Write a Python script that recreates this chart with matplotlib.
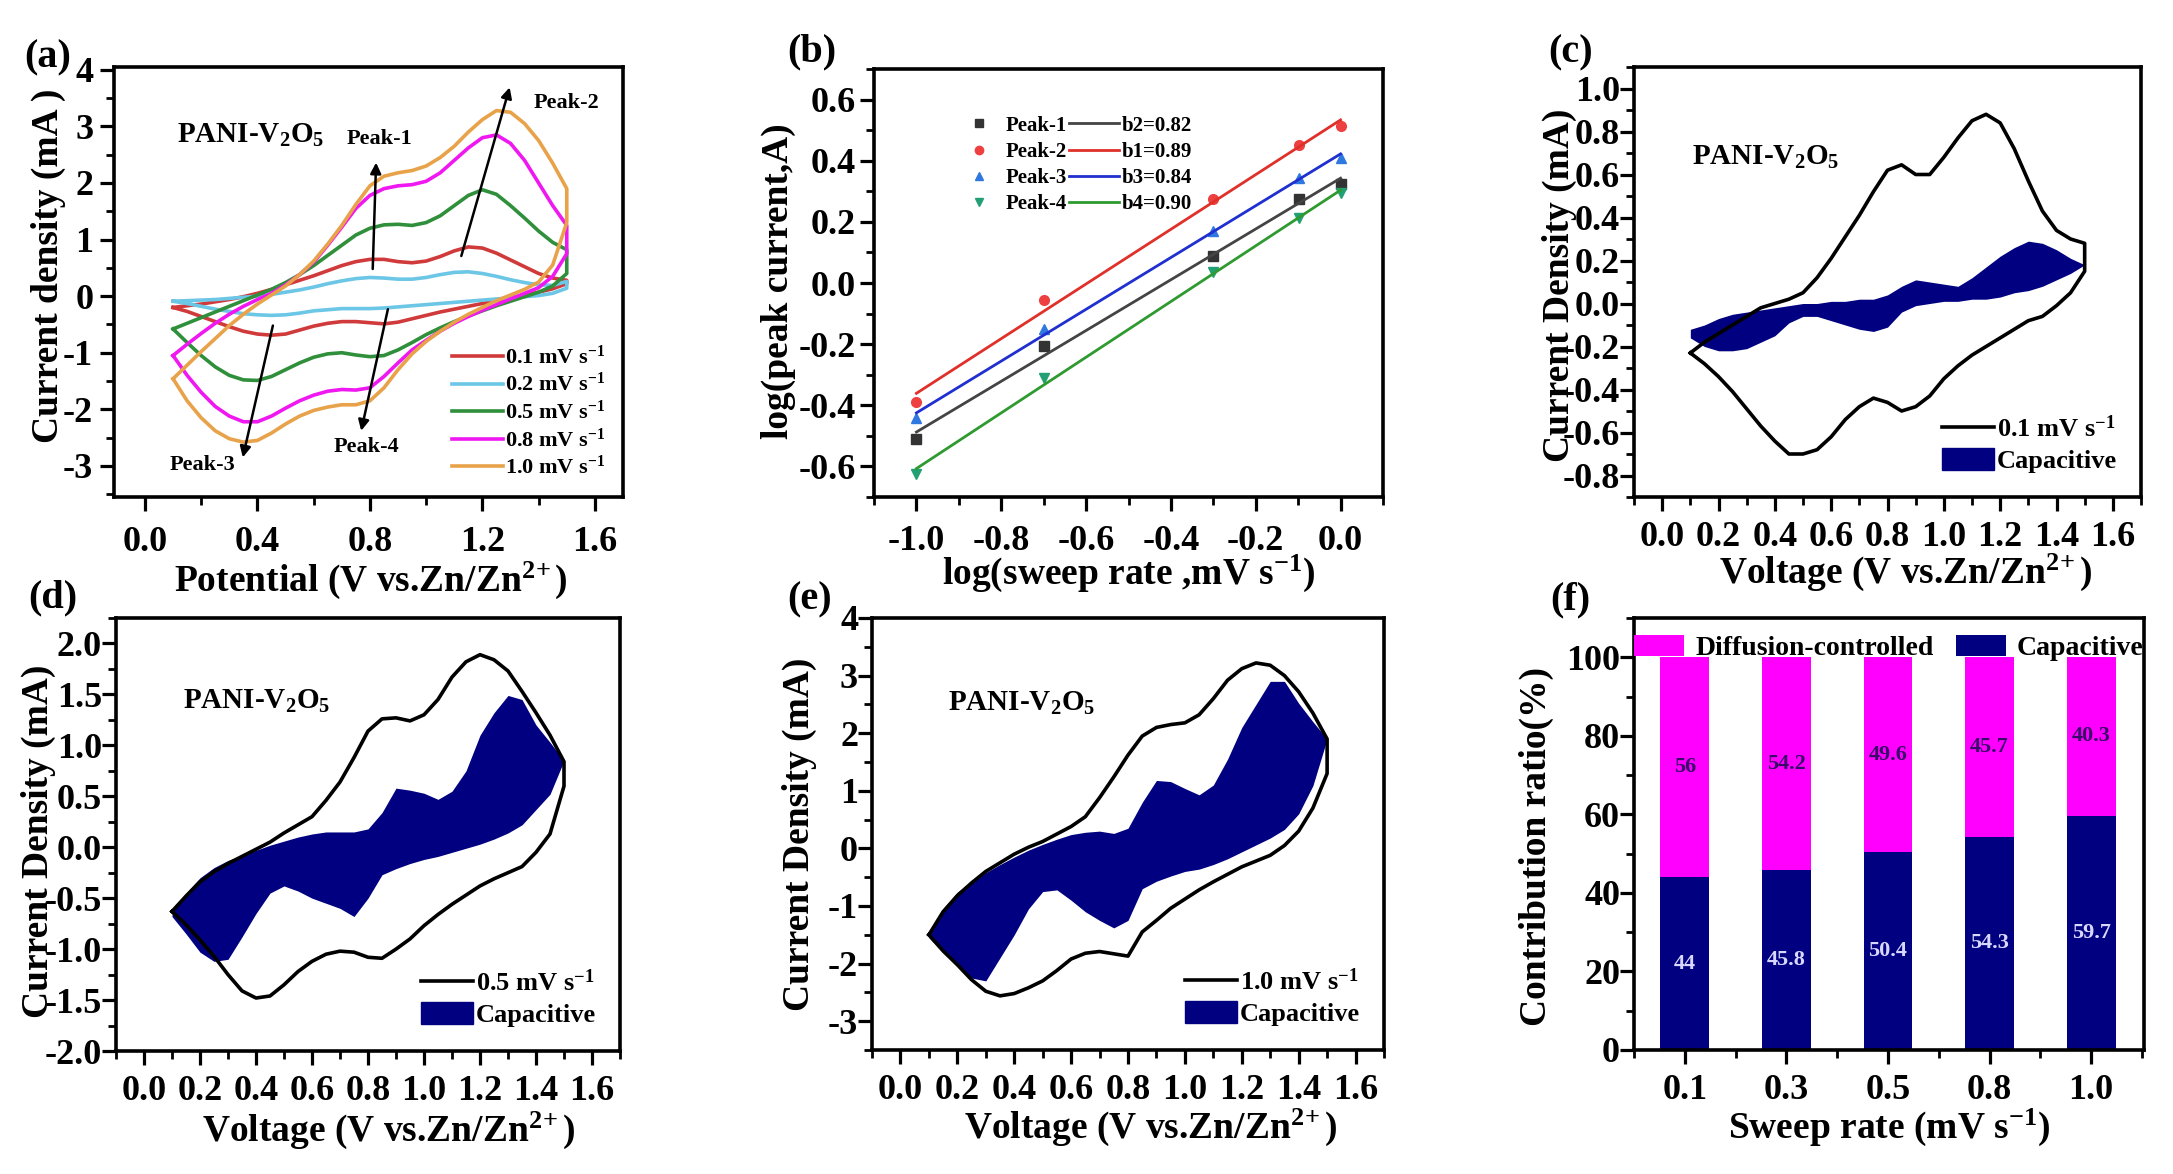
import numpy as np
import matplotlib
matplotlib.use("Agg")
import matplotlib.pyplot as plt
from matplotlib.ticker import MultipleLocator
from matplotlib.lines import Line2D
from matplotlib.patches import Patch

plt.rcParams['font.family'] = 'Liberation Serif'
plt.rcParams['font.weight'] = 'bold'
plt.rcParams['axes.labelweight'] = 'bold'
plt.rcParams['mathtext.fontset'] = 'custom'
plt.rcParams['mathtext.rm'] = 'Liberation Serif:bold'
plt.rcParams['mathtext.it'] = 'Liberation Serif:bold:italic'
plt.rcParams['mathtext.bf'] = 'Liberation Serif:bold'
plt.rcParams['mathtext.default'] = 'rm'
plt.rcParams['axes.unicode_minus'] = False

# ---------------- data ----------------
# voltage grid (V vs Zn/Zn2+) shared by all CV curves
volt = [0.10, 0.15, 0.20, 0.25, 0.30, 0.35, 0.40, 0.45, 0.50, 0.55, 0.60, 0.65, 0.70, 0.75, 0.80,
        0.85, 0.90, 0.95, 1.00, 1.05, 1.10, 1.15, 1.20, 1.25, 1.30, 1.35, 1.40, 1.45, 1.50]

# (a) CV at different sweep rates: anodic (upper) and cathodic (lower) branches
cv01_up = [-0.20, -0.17, -0.14, -0.10, -0.06, -0.01, 0.05, 0.12, 0.20, 0.28, 0.36, 0.45, 0.54, 0.61, 0.65,
           0.65, 0.61, 0.59, 0.62, 0.70, 0.80, 0.87, 0.85, 0.76, 0.64, 0.52, 0.40, 0.32, 0.28]
cv01_dn = [-0.20, -0.27, -0.36, -0.45, -0.54, -0.62, -0.67, -0.69, -0.67, -0.60, -0.53, -0.48, -0.45, -0.45, -0.47,
           -0.49, -0.46, -0.40, -0.34, -0.28, -0.23, -0.18, -0.13, -0.08, -0.03, 0.02, 0.07, 0.13, 0.22]
cv02_up = [-0.09, -0.08, -0.07, -0.06, -0.04, -0.02, 0.00, 0.03, 0.07, 0.11, 0.16, 0.22, 0.27, 0.31, 0.33,
           0.32, 0.30, 0.30, 0.33, 0.38, 0.42, 0.43, 0.40, 0.35, 0.29, 0.24, 0.20, 0.19, 0.26]
cv02_dn = [-0.09, -0.13, -0.18, -0.23, -0.27, -0.31, -0.33, -0.34, -0.33, -0.30, -0.26, -0.24, -0.22, -0.22, -0.22,
           -0.21, -0.19, -0.17, -0.15, -0.13, -0.11, -0.09, -0.07, -0.05, -0.03, -0.01, 0.01, 0.05, 0.14]
cv05_up = [-0.58, -0.48, -0.38, -0.28, -0.18, -0.08, 0.02, 0.12, 0.24, 0.38, 0.54, 0.72, 0.90, 1.08, 1.20,
           1.26, 1.27, 1.25, 1.30, 1.42, 1.60, 1.78, 1.88, 1.80, 1.60, 1.38, 1.15, 0.95, 0.82]
cv05_dn = [-0.58, -0.82, -1.05, -1.25, -1.40, -1.48, -1.49, -1.42, -1.30, -1.18, -1.08, -1.02, -1.00, -1.04, -1.07,
           -1.05, -0.95, -0.82, -0.68, -0.56, -0.45, -0.35, -0.26, -0.17, -0.09, -0.01, 0.07, 0.18, 0.40]
cv08_up = [-1.05, -0.85, -0.66, -0.48, -0.32, -0.18, -0.06, 0.05, 0.20, 0.38, 0.60, 0.90, 1.22, 1.55, 1.78,
           1.90, 1.95, 1.97, 2.03, 2.18, 2.40, 2.62, 2.80, 2.85, 2.70, 2.40, 2.00, 1.60, 1.25]
cv08_dn = [-1.05, -1.40, -1.70, -1.95, -2.12, -2.22, -2.22, -2.12, -1.98, -1.85, -1.75, -1.68, -1.65, -1.66, -1.62,
           -1.42, -1.18, -0.95, -0.78, -0.62, -0.48, -0.36, -0.25, -0.15, -0.05, 0.05, 0.15, 0.35, 0.75]
cv10_up = [-1.46, -1.22, -0.98, -0.75, -0.52, -0.32, -0.14, 0.02, 0.18, 0.38, 0.62, 0.92, 1.25, 1.62, 1.95,
           2.12, 2.18, 2.22, 2.30, 2.45, 2.65, 2.90, 3.12, 3.28, 3.25, 3.05, 2.75, 2.35, 1.90]
cv10_dn = [-1.46, -1.85, -2.15, -2.38, -2.52, -2.58, -2.55, -2.42, -2.26, -2.12, -2.02, -1.96, -1.92, -1.92, -1.85,
           -1.62, -1.30, -1.02, -0.80, -0.62, -0.46, -0.32, -0.20, -0.08, 0.02, 0.12, 0.25, 0.55, 1.30]
rate_labels = ['0.1 mV s$^{-1}$', '0.2 mV s$^{-1}$', '0.5 mV s$^{-1}$', '0.8 mV s$^{-1}$', '1.0 mV s$^{-1}$']

# (b) log(peak current) vs log(sweep rate)
log_rate = [-1.0, -0.699, -0.301, -0.097, 0.0]
peak1 = [-0.51, -0.205, 0.088, 0.275, 0.325]
peak2 = [-0.39, -0.055, 0.275, 0.450, 0.512]
peak3 = [-0.44, -0.150, 0.170, 0.345, 0.410]
peak4 = [-0.625, -0.310, 0.037, 0.213, 0.294]
peak_names = ['Peak-1', 'Peak-2', 'Peak-3', 'Peak-4']
b_labels = ['b2=0.82', 'b1=0.89', 'b3=0.84', 'b4=0.90']

# (c) 0.1 mV/s with capacitive contribution
c_up = [-0.23, -0.18, -0.14, -0.10, -0.06, -0.02, 0.00, 0.02, 0.05, 0.12, 0.21, 0.31, 0.41, 0.52, 0.62,
        0.645, 0.60, 0.60, 0.68, 0.77, 0.85, 0.88, 0.84, 0.72, 0.57, 0.43, 0.34, 0.30, 0.28]
c_dn = [-0.23, -0.28, -0.34, -0.41, -0.49, -0.57, -0.64, -0.70, -0.70, -0.68, -0.62, -0.54, -0.48, -0.44, -0.46,
        -0.50, -0.48, -0.43, -0.35, -0.29, -0.24, -0.20, -0.16, -0.12, -0.08, -0.06, -0.01, 0.05, 0.15]
c_cap_up = [-0.12, -0.10, -0.07, -0.05, -0.04, -0.03, -0.02, -0.01, 0.00, 0.00, 0.01, 0.01, 0.02, 0.02, 0.04,
            0.08, 0.11, 0.10, 0.09, 0.08, 0.12, 0.17, 0.22, 0.26, 0.29, 0.28, 0.25, 0.21, 0.18]
c_cap_dn = [-0.16, -0.20, -0.22, -0.22, -0.21, -0.18, -0.15, -0.09, -0.06, -0.06, -0.08, -0.10, -0.12, -0.13, -0.11,
            -0.04, -0.01, 0.00, 0.01, 0.01, 0.02, 0.02, 0.03, 0.05, 0.06, 0.08, 0.11, 0.14, 0.18]

# (d) 0.5 mV/s with capacitive contribution
d_up = [-0.63, -0.48, -0.34, -0.24, -0.16, -0.09, -0.02, 0.05, 0.14, 0.22, 0.30, 0.46, 0.64, 0.88, 1.14,
        1.26, 1.27, 1.24, 1.30, 1.45, 1.67, 1.82, 1.89, 1.84, 1.73, 1.53, 1.32, 1.10, 0.84]
d_dn = [-0.63, -0.76, -0.91, -1.07, -1.25, -1.41, -1.48, -1.46, -1.35, -1.22, -1.12, -1.05, -1.02, -1.03, -1.08,
        -1.09, -1.00, -0.90, -0.77, -0.66, -0.56, -0.47, -0.38, -0.31, -0.25, -0.19, -0.05, 0.13, 0.60]
d_cap_up = [-0.61, -0.45, -0.30, -0.20, -0.13, -0.08, -0.03, 0.02, 0.06, 0.10, 0.13, 0.15, 0.15, 0.15, 0.18,
            0.34, 0.58, 0.56, 0.53, 0.47, 0.55, 0.75, 1.10, 1.32, 1.49, 1.45, 1.20, 1.03, 0.85]
d_cap_dn = [-0.68, -0.85, -1.03, -1.12, -1.10, -0.88, -0.65, -0.45, -0.38, -0.43, -0.50, -0.55, -0.60, -0.68, -0.50,
            -0.27, -0.21, -0.16, -0.12, -0.09, -0.05, -0.01, 0.03, 0.08, 0.14, 0.22, 0.37, 0.52, 0.85]

# (e) 1.0 mV/s with capacitive contribution
e_up = [-1.50, -1.10, -0.82, -0.60, -0.40, -0.25, -0.10, 0.02, 0.12, 0.25, 0.38, 0.55, 0.88, 1.24, 1.62,
        1.95, 2.10, 2.15, 2.18, 2.32, 2.60, 2.92, 3.12, 3.22, 3.18, 3.00, 2.72, 2.35, 1.90]
e_dn = [-1.50, -1.78, -2.02, -2.28, -2.48, -2.56, -2.52, -2.42, -2.30, -2.12, -1.92, -1.82, -1.79, -1.83, -1.87,
        -1.45, -1.25, -1.04, -0.88, -0.72, -0.58, -0.45, -0.32, -0.22, -0.12, 0.05, 0.30, 0.70, 1.30]
e_cap_up = [-1.45, -1.05, -0.76, -0.58, -0.42, -0.28, -0.15, -0.03, 0.07, 0.16, 0.24, 0.28, 0.30, 0.26, 0.35,
            0.80, 1.18, 1.16, 1.04, 0.93, 1.10, 1.55, 2.10, 2.50, 2.90, 2.90, 2.52, 2.20, 1.90]
e_cap_dn = [-1.55, -1.80, -2.05, -2.25, -2.30, -1.90, -1.50, -1.05, -0.75, -0.72, -0.90, -1.10, -1.25, -1.38, -1.25,
            -0.70, -0.57, -0.48, -0.40, -0.36, -0.28, -0.18, -0.06, 0.06, 0.18, 0.33, 0.60, 1.09, 1.90]

# (f) contribution ratio
sweep_cats = ['0.1', '0.3', '0.5', '0.8', '1.0']
capacitive = [44, 45.8, 50.4, 54.3, 59.7]
diffusion = [56, 54.2, 49.6, 45.7, 40.3]

# ---------------- styling helpers ----------------
W, H = 2173, 1174
fig = plt.figure(figsize=(W / 100, H / 100), dpi=100)
zn = 'Zn/Zn$^{2\\!+}$'


def box(l, t, r, b):
    return [l / W, 1 - b / H, (r - l) / W, (b - t) / H]


def style(ax, xpad=12, ypad=3):
    for s in ax.spines.values():
        s.set_linewidth(2.6)
    ax.tick_params(which='major', direction='out', length=10, width=2.3, labelsize=26)
    ax.tick_params(which='minor', direction='out', length=6, width=2.0)
    ax.tick_params(axis='x', which='major', pad=xpad)
    ax.tick_params(axis='y', which='major', pad=ypad)
    ax.xaxis.label.set_size(27)
    ax.yaxis.label.set_size(27)


navy = '#000080'
ax_a = fig.add_axes(box(114, 67, 623, 497))
ax_b = fig.add_axes(box(874, 69, 1383, 497))
ax_c = fig.add_axes(box(1634, 67, 2141, 497))
ax_d = fig.add_axes(box(116, 618, 620, 1051))
ax_e = fig.add_axes(box(872, 618, 1384, 1050))
ax_f = fig.add_axes(box(1634, 618, 2144, 1050))


def loop(up, dn):
    x = list(volt) + list(volt[::-1])
    y = list(up) + list(dn[::-1])
    return x, y


# ---------------- (a) ----------------
cv_sets = [(cv01_up, cv01_dn, '#d03a3a'), (cv02_up, cv02_dn, '#6cc6e6'), (cv05_up, cv05_dn, '#2f8f3a'),
           (cv08_up, cv08_dn, '#f018f0'), (cv10_up, cv10_dn, '#e8a24a')]
for (up, dn, col), lab in zip(cv_sets, rate_labels):
    x, y = loop(up, dn)
    ax_a.plot(x, y, color=col, lw=2.6, label=lab)
ax_a.set_xlim(-0.11, 1.7)
ax_a.set_ylim(-3.55, 4.05)
ax_a.xaxis.set_major_locator(MultipleLocator(0.4))
ax_a.xaxis.set_minor_locator(MultipleLocator(0.2))
ax_a.yaxis.set_major_locator(MultipleLocator(1))
ax_a.yaxis.set_minor_locator(MultipleLocator(0.5))
ax_a.xaxis.set_major_formatter(lambda v, p: f'{v:.1f}')
ax_a.yaxis.set_major_formatter(lambda v, p: f'{v:.0f}')
style(ax_a, xpad=11, ypad=5)
ax_a.set_xlabel('Potential (V vs.' + zn + ')')
ax_a.set_ylabel('Current density (mA )')
ax_a.xaxis.set_label_coords(0.505, -0.145)
ax_a.yaxis.set_label_coords(-0.094, 0.537)
ax_a.text(0.124, 0.842, 'PANI-V$_2$O$_5$', transform=ax_a.transAxes, fontsize=21, va='center')
arrow_kw = dict(arrowstyle='-|>', color='black', lw=1.8, mutation_scale=16, shrinkA=0, shrinkB=0)
ax_a.annotate('', xy=(0.822, 2.36), xytext=(0.81, 0.48), arrowprops=arrow_kw)
ax_a.annotate('', xy=(1.297, 3.69), xytext=(1.125, 0.71), arrowprops=arrow_kw)
ax_a.annotate('', xy=(0.348, -2.85), xytext=(0.455, -0.52), arrowprops=arrow_kw)
ax_a.annotate('', xy=(0.769, -2.38), xytext=(0.864, -0.23), arrowprops=arrow_kw)
for txt, (tx, ty) in zip(peak_names, [(0.834, 2.78), (1.50, 3.42), (0.206, -2.99), (0.787, -2.67)]):
    ax_a.text(tx, ty, txt, fontsize=16, ha='center', va='center')
ax_a.legend(loc='lower right', bbox_to_anchor=(1.0, 0.0), frameon=False, fontsize=16,
            handlelength=2.3, handletextpad=0.1, labelspacing=0.2, borderaxespad=0.4)

# ---------------- (b) ----------------
peaks = [peak1, peak2, peak3, peak4]
mk_colors = ['#333333', '#ee4040', '#2f78e0', '#22a074']
ln_colors = ['#444444', '#e0302a', '#1f2fd0', '#2f9a2f']
markers = ['s', 'o', '^', 'v']
mk_handles, ln_handles = [], []
xs = np.array([min(log_rate), max(log_rate)])
for pk, mc, lc, m in zip(peaks, mk_colors, ln_colors, markers):
    ax_b.plot(log_rate, pk, linestyle='none', marker=m, color=mc, markersize=7)
    slope, icpt = np.polyfit(log_rate, pk, 1)
    ax_b.plot(xs, slope * xs + icpt, color=lc, lw=2.0)
    mk_handles.append(Line2D([], [], linestyle='none', marker=m, color=mc, markersize=6))
    ln_handles.append(Line2D([], [], color=lc, lw=2.0))
ax_b.set_xlim(-1.1, 0.1)
ax_b.set_ylim(-0.7, 0.7)
ax_b.xaxis.set_major_locator(MultipleLocator(0.2))
ax_b.xaxis.set_minor_locator(MultipleLocator(0.1))
ax_b.yaxis.set_major_locator(MultipleLocator(0.2))
ax_b.yaxis.set_minor_locator(MultipleLocator(0.1))
ax_b.xaxis.set_major_formatter(lambda v, p: f'{v:.1f}')
ax_b.yaxis.set_major_formatter(lambda v, p: f'{v:.1f}')
style(ax_b, xpad=10, ypad=3)
ax_b.set_xlabel('log(sweep rate ,mV s$^{-1}$)')
ax_b.set_ylabel('log(peak current,A)')
ax_b.xaxis.set_label_coords(0.50, -0.13)
ax_b.yaxis.set_label_coords(-0.153, 0.505)
ax_b.legend(mk_handles + ln_handles, peak_names + b_labels, ncol=2, loc='upper left',
            bbox_to_anchor=(0.12, 0.935), frameon=False, fontsize=15, handlelength=2.4,
            handletextpad=0.1, columnspacing=0.1, labelspacing=0.3)


# ---------------- (c), (d), (e) ----------------
def cap_panel(ax, up, dn, cap_up, cap_dn, label, ylim, ymaj, ymin, yfmt, lab_xy, text_xy, leg_font):
    ax.fill_between(volt, cap_dn, cap_up, color=navy, lw=0, zorder=2)
    x, y = loop(up, dn)
    ax.plot(x, y, color='black', lw=2.6, zorder=3)
    ax.set_xlim(-0.1, 1.7)
    ax.set_ylim(*ylim)
    ax.xaxis.set_major_locator(MultipleLocator(0.2))
    ax.xaxis.set_minor_locator(MultipleLocator(0.1))
    ax.yaxis.set_major_locator(MultipleLocator(ymaj))
    ax.yaxis.set_minor_locator(MultipleLocator(ymin))
    ax.xaxis.set_major_formatter(lambda v, p: f'{v:.1f}')
    ax.yaxis.set_major_formatter(lambda v, p: yfmt.format(v))
    style(ax, xpad=7, ypad=0)
    ax.set_xlabel('Voltage (V vs.' + zn + ')')
    ax.set_ylabel('Current Density (mA)')
    ax.xaxis.set_label_coords(*lab_xy[0])
    ax.yaxis.set_label_coords(*lab_xy[1])
    ax.text(text_xy[0], text_xy[1], 'PANI-V$_2$O$_5$', transform=ax.transAxes, fontsize=21, va='center')
    handles = [Line2D([], [], color='black', lw=2.6), Patch(color=navy)]
    ax.legend(handles, [label, 'Capacitive'], loc='lower right', frameon=False, fontsize=leg_font,
              handlelength=2.0, handleheight=0.9, handletextpad=0.1, labelspacing=0.25,
              borderaxespad=0.5)


cap_panel(ax_c, c_up, c_dn, c_cap_up, c_cap_dn, '0.1 mV s$^{-1}$', (-0.9, 1.1), 0.2, 0.1, '{:.1f}',
          [(0.535, -0.128), (-0.112, 0.493)], (0.114, 0.79), 19)
cap_panel(ax_d, d_up, d_dn, d_cap_up, d_cap_dn, '0.5 mV s$^{-1}$', (-2.0, 2.25), 0.5, 0.25, '{:.1f}',
          [(0.54, -0.136), (-0.119, 0.485)], (0.133, 0.808), 19)
cap_panel(ax_e, e_up, e_dn, e_cap_up, e_cap_dn, '1.0 mV s$^{-1}$', (-3.5, 4.0), 1, 0.5, '{:.0f}',
          [(0.543, -0.132), (-0.107, 0.50)], (0.148, 0.803), 19)

# ---------------- (f) ----------------
pos = np.arange(len(sweep_cats))
b_cap = ax_f.bar(pos, capacitive, width=0.48, color=navy, label='Capacitive')
b_dif = ax_f.bar(pos, diffusion, width=0.48, bottom=capacitive, color='#ff00ff', label='Diffusion-controlled')
ax_f.bar_label(b_cap, labels=[f'{v:g}' for v in capacitive], label_type='center', color='#d8d8ff', fontsize=16)
ax_f.bar_label(b_dif, labels=[f'{v:g}' for v in diffusion], label_type='center', color='#3a0a6a', fontsize=16)
ax_f.set_xlim(-0.5, 4.52)
ax_f.set_ylim(0, 110)
ax_f.set_xticks(pos)
ax_f.set_xticklabels(sweep_cats)
ax_f.xaxis.set_minor_locator(MultipleLocator(0.5))
ax_f.yaxis.set_major_locator(MultipleLocator(20))
ax_f.yaxis.set_minor_locator(MultipleLocator(10))
style(ax_f, xpad=7, ypad=0)
ax_f.set_xlabel('Sweep rate (mV s$^{-1}$)')
ax_f.set_ylabel('Contribution ratio(%)')
ax_f.xaxis.set_label_coords(0.50, -0.13)
ax_f.yaxis.set_label_coords(-0.157, 0.47)
ax_f.legend([b_dif, b_cap], ['Diffusion-controlled', 'Capacitive'], ncol=2, loc='upper center',
            bbox_to_anchor=(0.5, 1.0), frameon=False, fontsize=20, handlelength=1.8, handleheight=0.8,
            handletextpad=0.4, columnspacing=0.8, borderaxespad=0.2)

# ---------------- panel letters ----------------
for letter, (px, py) in zip('abcdef', [(48, 58), (812, 52), (1571, 53), (53, 598), (810, 600), (1570, 600)]):
    fig.text(px / W, 1 - py / H, f'({letter})', fontsize=29, ha='center', va='center')

fig.savefig('out.png', dpi=100)
